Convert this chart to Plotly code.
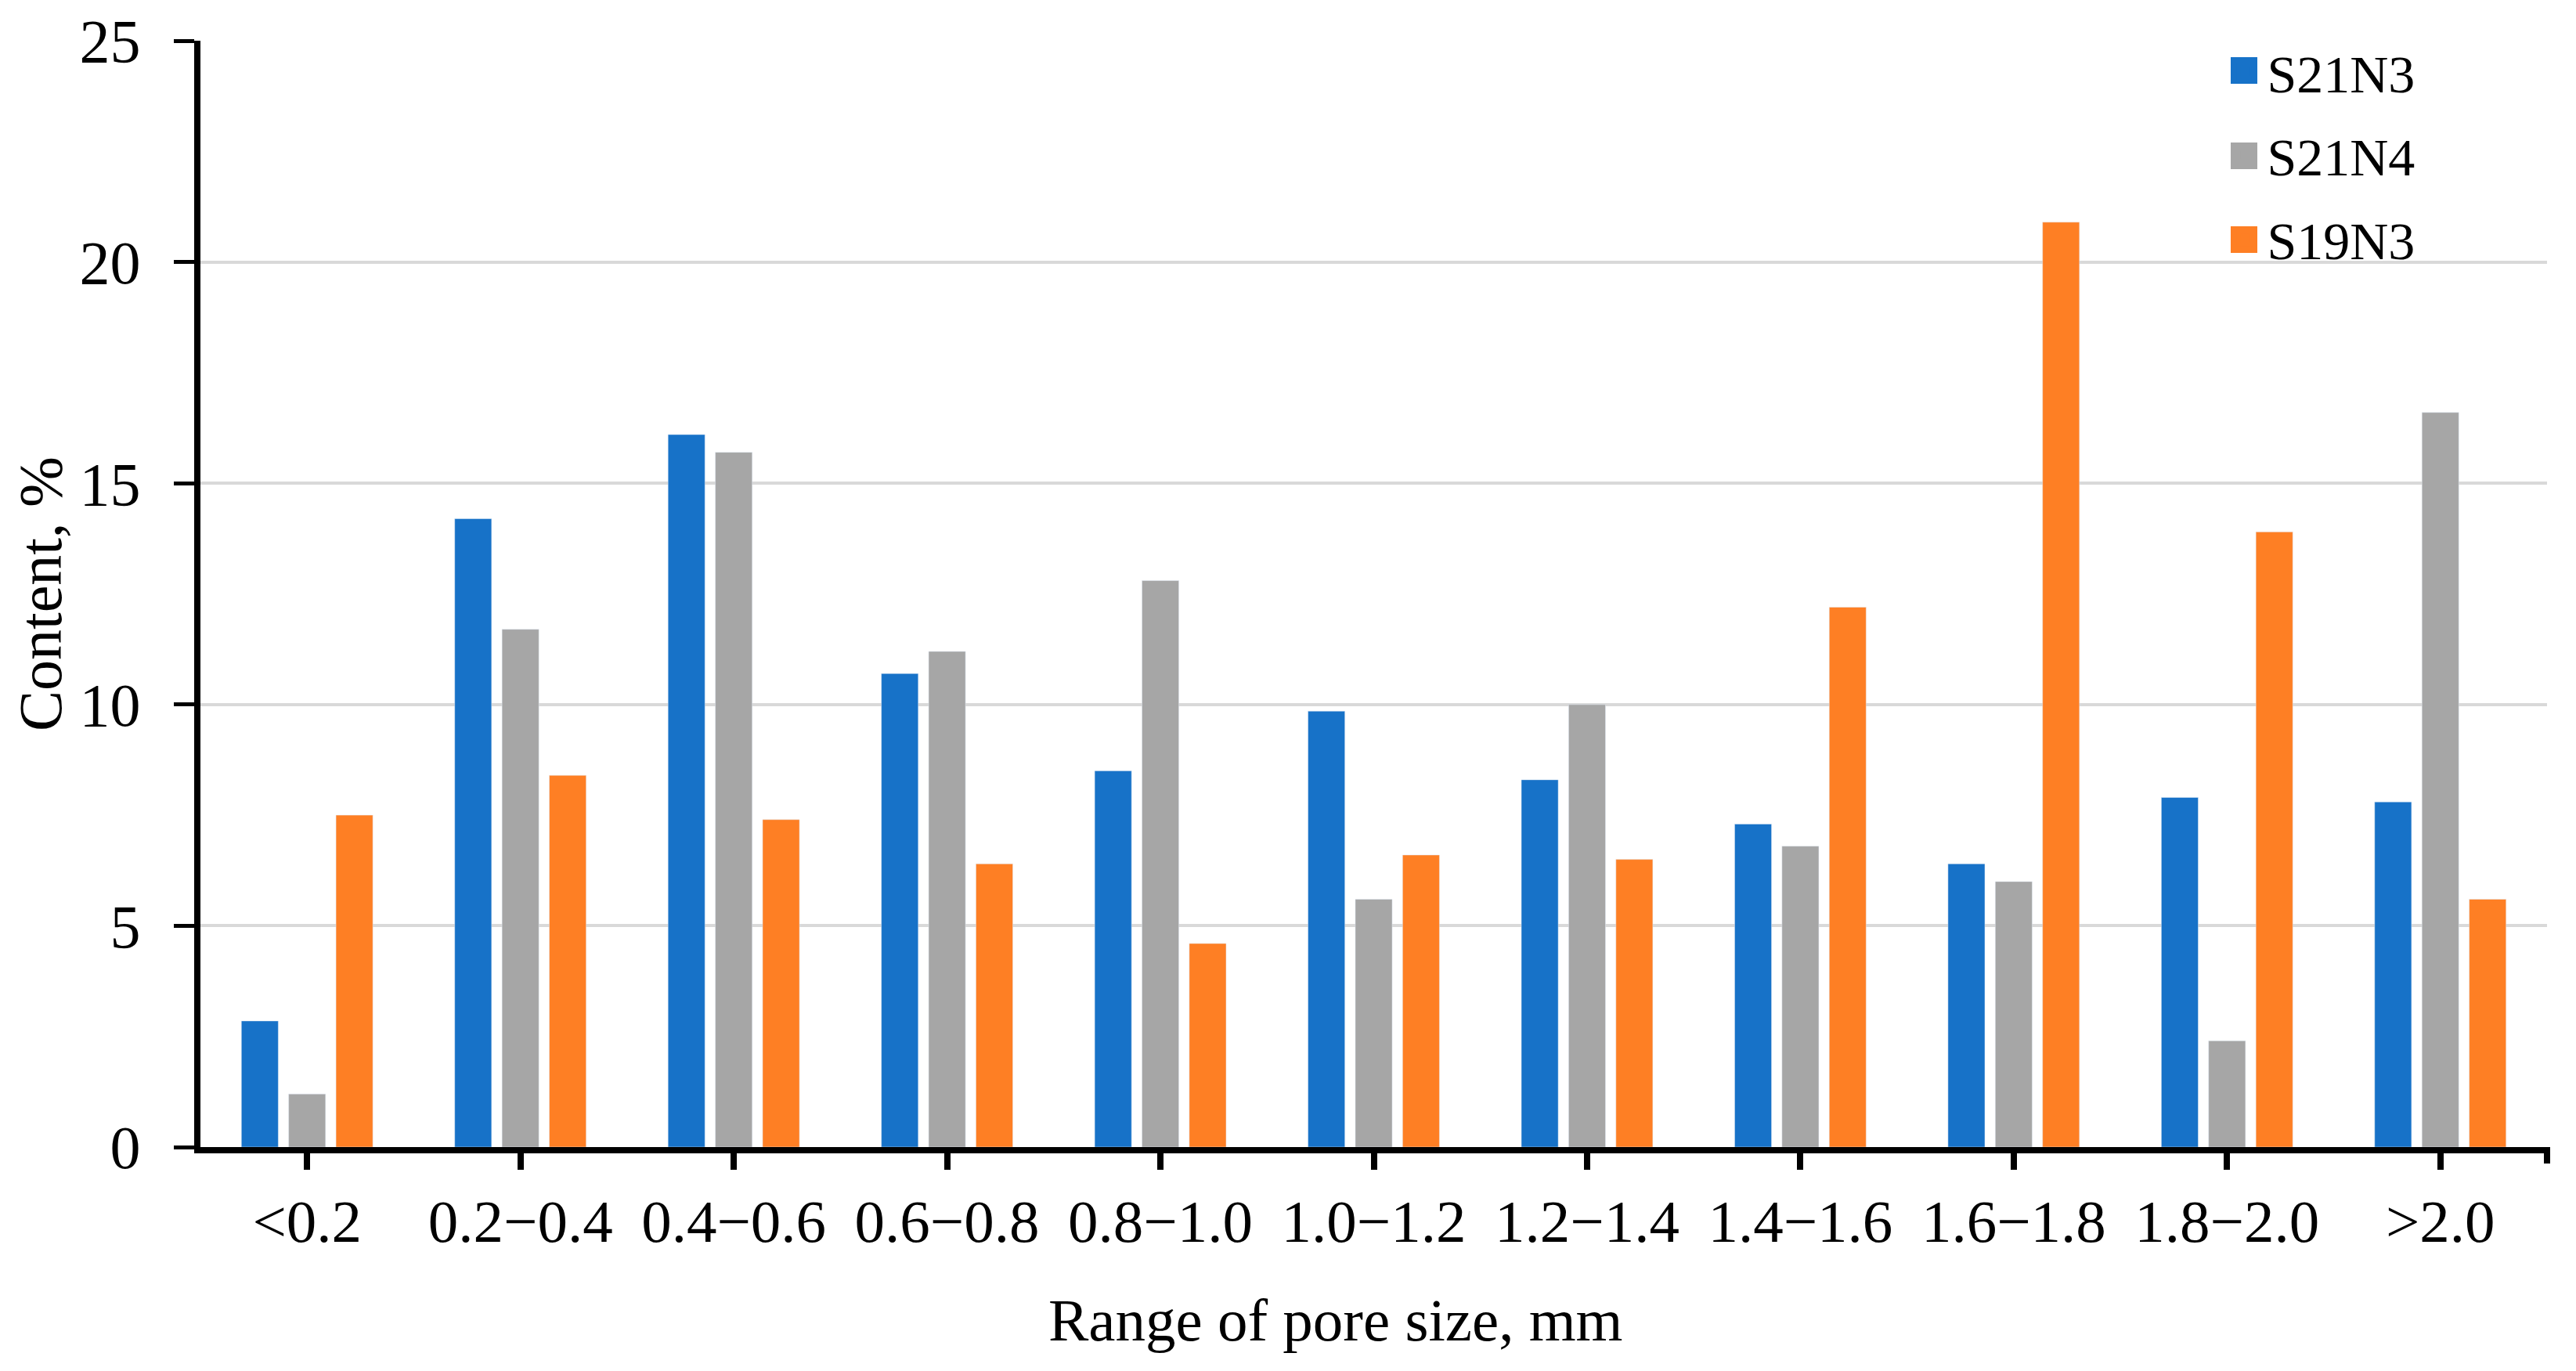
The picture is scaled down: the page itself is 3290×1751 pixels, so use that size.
import plotly.graph_objects as go

categories = ["<0.2", "0.2−0.4", "0.4−0.6", "0.6−0.8", "0.8−1.0", "1.0−1.2",
              "1.2−1.4", "1.4−1.6", "1.6−1.8", "1.8−2.0", ">2.0"]
s21n3 = [2.85, 14.2, 16.1, 10.7, 8.5, 9.85, 8.3, 7.3, 6.4, 7.9, 7.8]
s21n4 = [1.2, 11.7, 15.7, 11.2, 12.8, 5.6, 10.0, 6.8, 6.0, 2.4, 16.6]
s19n3 = [7.5, 8.4, 7.4, 6.4, 4.6, 6.6, 6.5, 12.2, 20.9, 13.9, 5.6]
series_names = ["S21N3", "S21N4", "S19N3"]
y_ticks = [0, 5, 10, 15, 20, 25]

colors = ["#1772C8", "#A6A6A6", "#FE7F24"]
FONT = "Liberation Serif"

# page body has an 8px margin; size the figure so the page does not overflow
W, H = 3274, 1735
L, R, T, B = 248, 29, 44, 278
PW, PH = W - L - R, H - T - B

fig = go.Figure()
for name, vals, col in zip(series_names, [s21n3, s21n4, s19n3], colors):
    fig.add_trace(go.Bar(x=categories, y=vals, name=name, marker_color=col,
                         showlegend=False))
# legend entries
for i, (name, col) in enumerate(zip(series_names, colors)):
    fig.add_trace(go.Scatter(x=[None], y=[None], mode="markers", name=name,
                             legendgroup=f"g{i}",
                             marker=dict(symbol="square", size=16, color=col,
                                         line=dict(width=5, color=col))))

fig.update_layout(
    width=W, height=H,
    paper_bgcolor="white", plot_bgcolor="white",
    margin=dict(l=L, r=R, t=T, b=B, autoexpand=False),
    barmode="group", bargap=0.335, bargroupgap=0.22,
    font=dict(family=FONT, color="black", size=77),
    legend=dict(x=0.862, y=1.008, xanchor="left", yanchor="top",
                font=dict(family=FONT, size=68, color="black"),
                bgcolor="rgba(0,0,0,0)", itemsizing="trace",
                tracegroupgap=15, itemwidth=46),
    showlegend=True,
)
fig.update_xaxes(
    showline=True, linecolor="black", linewidth=8,
    ticks="outside", ticklen=21, tickwidth=8, tickcolor="black",
    tickfont=dict(family=FONT, size=77, color="black"),
    ticklabelstandoff=0,
    showgrid=False, zeroline=False, automargin=False,
)
fig.update_yaxes(
    range=[0, 25], tickvals=y_ticks,
    showline=True, linecolor="black", linewidth=8,
    ticks="outside", ticklen=26, tickwidth=5, tickcolor="black",
    tickfont=dict(family=FONT, size=78, color="black"),
    ticklabelstandoff=27,
    showgrid=True, gridcolor="#D9D9D9", gridwidth=4,
    zeroline=False, automargin=False,
    title=dict(text="Content, %", font=dict(family=FONT, size=78), standoff=58),
)
# x-axis title (slightly left of centre as in the original)
fig.add_annotation(text="Range of pore size, mm", xref="paper", yref="paper",
                   x=0.4835, y=-0.1564, xanchor="center", yanchor="middle",
                   showarrow=False, font=dict(family=FONT, size=77, color="black"))
# enlarged legend swatches behind the legend symbols
sw = 17
for col, cy in zip(colors, [82, 191, 298]):
    fig.add_shape(type="rect", xref="paper", yref="paper",
                  x0=(2841 - L) / PW, x1=(2875 - L) / PW,
                  y0=(H - B - cy - sw) / PH, y1=(H - B - cy + sw) / PH,
                  line=dict(width=0), fillcolor=col)
# extra tick at right end of category axis
fig.add_shape(type="line", xref="paper", yref="paper", x0=1, x1=1,
              y0=0, y1=-21 / PH, line=dict(color="black", width=8))

fig.write_html("out.html")
